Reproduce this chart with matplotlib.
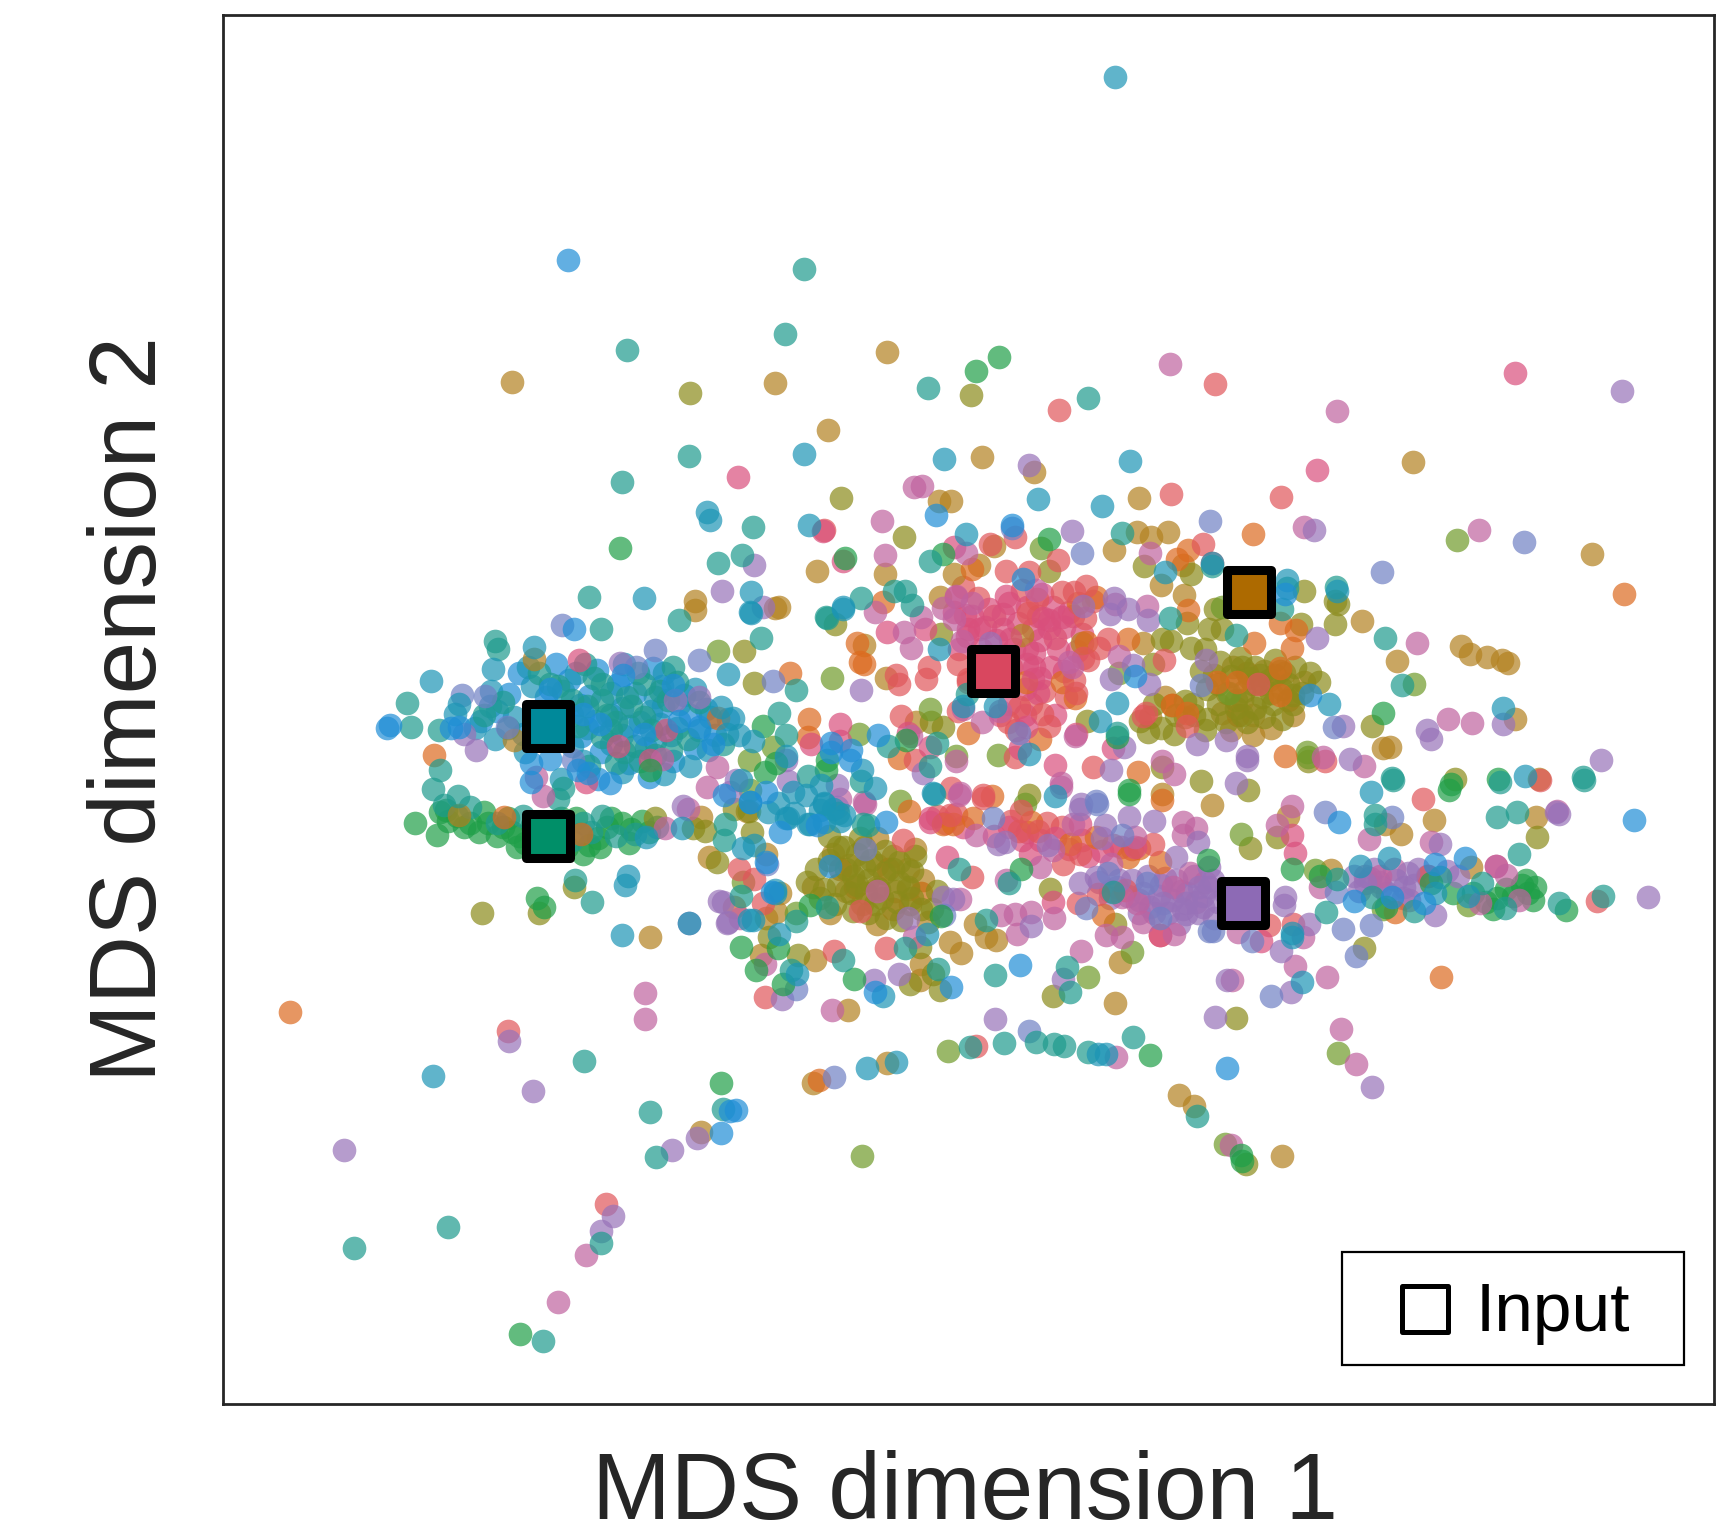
import matplotlib
matplotlib.use('Agg')
import matplotlib.pyplot as plt

plt.rcParams['font.family'] = ['Liberation Sans', 'DejaVu Sans']

# points, one list per colour
blue = [(517,237),(851,468),(921,477),(522,572),(500,626),(567,614),(612,623),(530,649),(546,658),(586,667),(618,655),
        (535,703),(555,712),(526,700),(483,711),(483,694),(410,662),(418,661),(352,662),(355,659),(636,661),(649,676),
        (756,675),(774,682),(659,723),(682,729),(697,720),(710,756),(806,747),(743,750),(755,787),(697,784),(702,811),
        (1116,971),(1218,747),(1333,780),(1305,785),(1232,819),(1266,815),(1295,821),(1486,745),(664,1010),(670,1009),
        (656,1030),(1032,615),(931,526),(799,668),(756,684),(773,691),(928,877),(865,897),(796,902),(1192,632),(1169,540)]
periwinkle = [(511,568),(579,606),(596,591),(636,600),(420,632),(441,633),(461,661),(521,691),(703,619),(698,785),
              (787,772),(859,832),(903,744),(1021,759),(1008,794),(1043,803),(1055,834),(1100,846),(988,825),(997,728),
              (1205,738),(1266,743),(1215,811),(1222,844),(1247,841),(1233,869),(1156,905),(1103,846),(1139,855),(936,937),
              (759,979),(724,899),(1101,474),(984,503),(921,480),(1092,623),(1213,661),(998,731),(1257,520),(1386,493),(927,666)]
mauve = [(564,603),(636,634),(614,636),(422,667),(433,682),(670,709),(664,720),(621,733),(654,819),(661,839),(627,839),
         (715,691),(761,714),(826,834),(795,891),(818,885),(711,908),(858,815),(867,817),(908,767),(914,765),(953,768),
         (983,731),(1005,750),(1027,743),(1050,746),(1002,762),(982,803),(997,797),(1018,800),(1058,821),(1079,821),(1094,824),
         (1079,831),(1091,806),(1103,800),(1070,779),(1090,765),(1100,788),(938,842),(967,890),(905,926),(1169,815),(1168,823),
         (1191,840),(1165,864),(1174,902),(1116,891),(1105,924),(1242,803),(1277,806),(1281,794),(1326,796),(1305,832),(1310,767),
         (1418,740),(1499,815),(1248,988),(975,483),(1013,544),(1010,558),(1026,554),(1044,564),(985,551),(1198,580),(1089,676),
         (1115,673),(1134,691),(1124,712),(1011,700),(1022,679),(1031,605),(1045,622),(1011,617),(783,627),(982,735),(840,703),
         (1475,356),(936,423),(686,514),(657,537),(694,552),(463,946),(485,992),(634,1034),(611,1045),(313,1045),(558,1105),(547,1119),
         (1134,687),(1228,690),(1298,664),(1302,672),(1222,660),(1367,658),(1456,691),(1415,738),(761,734),(717,710),(658,820),(662,838),
         (901,585),(1195,482),(1097,600)]
pink = [(494,724),(488,706),(602,690),(605,753),(626,735),(643,715),(652,697),(587,903),(587,926),(673,834),(696,876),(757,918),
        (764,726),(787,731),(873,721),(965,712),(798,810),(831,852),(873,817),(888,759),(958,773),(976,749),(946,788),(915,800),
        (959,834),(925,849),(938,829),(923,831),(911,832),(1006,850),(983,864),(1021,852),(1040,838),(1068,849),(1076,747),(1088,753),
        (1076,759),(1032,761),(1011,785),(1034,821),(1021,815),(1067,806),(1082,794),(1175,733),(1162,750),(1185,852),(1178,878),
        (1207,888),(1121,891),(1126,847),(1220,935),(1233,967),(1245,763),(1302,765),(1361,787),(1370,795),(1255,796),(1201,806),
        (1346,821),(1382,818),(1416,737),(1216,374),(839,442),(802,474),(805,505),(879,503),(870,542),(858,553),(884,548),(868,563),
        (942,536),(875,583),(838,561),(822,575),(829,589),(796,556),(1014,549),(1043,551),(1046,503),(972,602),(975,606),(1018,596),
        (876,645),(893,656),(910,646),(829,669),(870,692),(872,723),(786,729),(965,715),(1068,704),(1057,692),(978,669),(1186,479),
        (1345,482),(1339,657),(1317,654),(1289,585),(1203,688),(1241,696),(533,1141),(508,1183),(1120,1041),(1015,961),(1064,331),(831,443)]
rose = [(527,600),(606,664),(562,678),(591,691),(533,711),(738,676),(764,658),(671,434),(861,779),(937,776),(982,749),(846,747),
        (958,820),(1032,770),(1055,850),(1147,855),(1175,759),(1178,775),(1361,787),(1378,339),(1198,427),(749,483),(868,497),
        (767,510),(915,542),(912,558),(966,561),(949,562),(954,571),(919,581),(891,572),(881,572),(841,572),(807,575),(941,606),
        (941,594),(940,617),(928,680),(933,661),(1012,680),(979,667),(960,695),(846,679),(826,666),(870,543),(878,559),(764,674)]
salmon = [(1165,452),(750,482),(963,373),(1105,349),(1065,449),(901,495),(923,488),(962,509),(1094,495),(1102,512),(936,520),
          (915,519),(943,545),(935,557),(966,538),(977,538),(988,533),(987,562),(1000,589),(1008,581),(985,598),(977,618),(979,630),
          (1059,600),(1042,648),(1040,651),(845,606),(842,617),(871,604),(881,617),(881,620),(818,622),(815,614),(820,651),(871,646),
          (917,656),(927,643),(923,688),(954,660),(948,649),(832,691),(865,716),(894,725),(994,697),(1144,622),(1205,692),(672,790),
          (686,799),(694,821),(806,862),(759,864),(696,906),(888,951),(782,828),(1080,660),(927,755),(944,755),(929,737),(864,741),
          (982,776),(967,785),(1049,767),(981,821),(999,813),(1023,809),(1055,850),(1154,841),(1176,840),(1299,796),(1294,726),(1453,819),
          (462,937),(551,1094),(884,797),(821,764),(894,723),(1401,709)]
orange = [(264,920),(1311,888),(1477,540),(1140,486),(1071,508),(1081,500),(1081,555),(1164,566),(1179,573),(1175,589),(1164,607),
          (1107,620),(1125,620),(1164,632),(1066,641),(1080,648),(884,517),(981,548),(997,543),(988,584),(1026,581),(933,620),(966,620),
          (978,635),(803,547),(786,604),(881,666),(946,672),(1035,702),(1057,727),(818,689),(1169,687),(735,670),(719,612),(653,653),
          (736,654),(780,585),(782,602),(529,758),(459,743),(827,737),(902,724),(885,744),(867,749),(858,749),(938,747),(973,767),
          (997,761),(1036,771),(1026,779),(1055,784),(1003,832),(395,686),(1269,829),(1141,585),(745,982),(668,824)]
gold = [(466,347),(705,348),(807,320),(753,391),(865,456),(893,416),(941,429),(1036,453),(854,456),(743,519),(904,496),(1034,484),
        (1047,488),(1062,484),(1013,500),(1056,532),(1076,514),(1077,541),(891,514),(868,522),(805,522),(709,552),(786,586),(806,616),
        (833,656),(930,577),(855,543),(984,585),(1040,585),(1285,420),(1448,504),(1329,587),(1337,595),(1353,597),(1372,603),(1366,600),
        (1271,601),(1239,565),(1378,654),(1258,680),(1264,679),(1400,708),(468,673),(486,599),(632,555),(632,546),(705,553),(418,741),
        (638,743),(645,779),(680,737),(697,776),(710,812),(706,829),(697,834),(692,868),(741,873),(887,840),(864,856),(874,866),(897,852),
        (906,854),(838,876),(837,891),(1014,912),(771,918),(1019,874),(1102,732),(1172,742),(1211,791),(1304,745),(1260,749),(1274,758),
        (1397,743),(1338,788),(1057,722),(740,984),(807,966),(638,1029),(1072,995),(1086,1005),(1166,1051),(591,852)]
khaki = [(883,359),(628,357),(765,453),(822,488),(1041,515),(1083,522),(1080,566),(1105,554),(1100,572),(1112,572),(1083,589),
         (1096,590),(1049,604),(1057,581),(1065,583),(1056,662),(1044,665),(1068,667),(1037,655),(1078,637),(1190,692),(1092,710),(1135,718),
         (1057,697),(858,661),(847,656),(856,576),(760,567),(954,519),(1186,537),(1183,567),(1214,567),(1214,546),(1217,549),(1248,660),
         (1323,708),(1398,761),(989,655),(936,723),(596,744),(630,753),(641,755),(684,756),(652,784),(668,735),(700,852),(726,868),(828,894),
         (849,885),(855,900),(837,861),(955,808),(958,905),(1014,840),(1137,771),(1162,761),(1241,862),(1124,925),(681,737),(677,592),(686,621),
         (490,830),(439,830),(522,806),(1133,1058)]
olive = [(653,592),(757,616),(781,667),(846,645),(908,686),(947,498),(1118,630),(1190,688),(1018,612),(1112,552),
         (1286,622),(1325,491),(703,679),(681,691),(682,718),(724,830),(819,728),(932,731),(1129,758),(1030,865),(1196,791),
         (1258,826),(1335,823),(1217,957),(990,888),(862,955),(784,1051),(1114,1040),(1189,684),(676,802),(870,687)]
green = [(564,498),(888,337),(909,325),(954,490),(858,504),(769,507),(1027,722),(1027,718),(1258,648),(1363,708),(1320,713),(694,660),
         (752,691),(706,694),(696,702),(1016,670),(824,673),(751,700),(378,748),(398,759),(489,816),(495,824),(674,861),(708,862),(688,882),
         (712,894),(777,890),(737,823),(856,833),(929,790),(1046,959),(1099,782),(1175,790),(1201,796),(1261,824),(1302,803),
         (1424,827),(1318,718),(1129,1050),(1130,1055),(656,984),(473,1212),(591,700)]
teal = [(731,245),(714,304),(570,318),(844,353),(990,362),(627,415),(566,438),(653,512),(675,505),(685,479),(536,543),(547,572),
        (692,580),(752,562),(618,564),(450,583),(453,590),(370,639),(374,661),(399,664),(400,700),(394,717),(709,648),(715,668),(724,627),
        (735,705),(762,739),(783,544),(813,537),(823,537),(830,550),(751,561),(846,510),(1021,485),(1064,562),(1124,577),(1166,554),(1171,535),
        (808,678),(852,675),(846,696),(783,710),(880,631),(1016,666),(785,749),(790,750),(850,722),(897,836),(918,803),(872,790),(417,724),
        (660,749),(659,764),(539,820),(523,800),(674,814),(724,837),(752,824),(767,873),(720,882),(823,862),(853,881),(905,886),(971,879),
        (973,902),(913,948),(882,952),(942,947),(959,949),(968,951),(990,956),(1031,943),(1089,1014),(531,964),(591,1011),(658,1008),(597,1052),
        (408,1115),(322,1134),(547,1130),(494,1219),(1206,829),(1251,741),(1251,749),(1362,743),(1380,738),(1382,776),(1267,709),(1364,711),
        (1441,709),(1440,706),(1266,707),(1260,580),(1215,534),(1275,623),(1248,815),(1216,799),(1310,797),(1348,803),(1369,825),(1286,828),
        (1418,821),(1458,814),(1012,811),(1102,515)]
cyan = [(1014,70),(731,413),(859,417),(1028,419),(944,454),(1002,460),(643,466),(646,473),(736,477),(879,486),(683,538),(683,557),
        (767,552),(586,544),(682,556),(662,613),(392,619),(449,608),(486,588),(418,640),(414,649),(656,643),(667,653),(661,667),(685,674),
        (674,709),(721,720),(747,714),(708,730),(717,744),(735,749),(750,730),(758,735),(768,741),(750,731),(699,738),(682,729),(715,744),
        (737,749),(715,687),(733,723),(746,736),(722,739),(750,747),(764,746),(784,700),(796,716),(849,721),(905,642),(843,849),(876,642),
        (1060,520),(1102,512),(1171,527),(1216,537),(854,590),(767,554),(1016,639),(1209,640),(936,685),(960,724),(1001,655),(588,761),(620,753),
        (571,796),(569,804),(566,850),(627,839),(676,771),(686,768),(681,836),(685,836),(705,809),(705,812),(709,849),(725,885),(803,905),
        (815,965),(789,971),(999,958),(1006,958),(1247,720),(1263,780),(1237,787),(1305,812),(1335,814),(1175,852),(1184,893),(1367,644),
        (1387,705),(394,978),(1175,848)]

# the crowded patches, drawn first so the single points sit on top
blue_dense = [(472,612),(506,604),(543,609),(594,607),(518,618),(562,622),(602,624),(463,631),(497,634),(536,633),(578,630),(622,632),
              (452,646),(487,648),(528,641),(566,644),(603,642),(642,645),(438,655),(476,667),(541,655),(582,656),(628,650),(662,654),
              (529,669),(566,668),(610,668),(650,668),(547,684),(588,680),(632,680),(500,690),(572,694),(612,692),(544,708),(590,706)]
cyan_dense = [(480,606),(524,612),(568,604),(604,612),(447,628),(484,624),(512,628),(556,630),(596,634),(632,626),(446,642),(468,652),
              (520,650),(556,650),(592,646),(618,640),(646,652),(432,662),(450,672),(534,662),(572,660),(600,658),(636,664),(672,668),
              (520,678),(556,676),(596,674),(644,682),(478,684),(530,692),(566,702),(604,704),(628,696),(510,708)]
teal_dense = [(490,612),(532,604),(580,612),(612,606),(508,624),(548,622),(586,622),(616,620),(458,638),(548,636),(574,642),(608,636),
              (636,638),(440,650),(462,662),(534,642),(560,656),(592,664),(626,672),(548,670),(578,678),(610,682),(658,676),(536,696),(582,692),
              (512,716),(508,726),(404,732),(428,734),(452,748),(476,742),(494,770),(530,748),(548,742),(520,764),(538,756),(560,760),(578,758),(598,752),
              (500,622),(540,616),(570,634),(600,628),(526,660),(556,664),(586,652),(616,662),(568,684),(596,686),(552,650),(520,636),(560,694)]
green_dense = [(400,738),(408,746),(422,752),(440,738),(436,756),(452,760),(466,756),(478,766),(490,758),(462,744),(512,756),(524,744),
               (536,768),(552,752),(566,748),(546,770),(572,766),(590,756),(584,746),(530,776),
               (406,736),(416,742),(428,748),(444,748),(458,752),(472,760),(484,750),(470,770),(516,770),(528,758),(544,762),(556,744),(574,754),(510,744),
               (1322,812),(1340,812),(1352,820),(1362,816),(1370,808),(1384,804),(1390,812),(1396,806),(1358,826),(1376,814),(1388,800),(1394,818)]
khaki_dense = [(1092,610),(1110,602),(1128,598),(1142,606),(1160,600),(1178,606),(1192,612),(1120,615),(1136,616),(1154,618),(1172,622),(1098,626),
               (1116,630),(1132,628),(1148,634),(1166,626),(1184,630),(1200,620),(1108,640),(1124,644),(1142,644),(1158,640),(1176,640),(1086,650),(1098,654),
               (1115,656),(1134,656),(1150,652),(1166,654),(1096,664),(1070,650),(1050,640),(1084,640),
               (742,790),(754,782),(768,770),(780,776),(792,782),(805,774),(818,784),(832,778),(762,804),(776,796),(790,800),(804,794),(818,802),
               (830,792),(746,816),(760,822),(774,812),(788,812),(802,816),(816,820),(830,816),(776,828),(790,830),(806,834),(820,836),(838,826),(734,802),
               (750,808),(852,810),(848,826),(754,760),(782,762),(770,790),(786,788),(800,808),(812,790),(826,806),(780,804),(796,822),(762,770),
               (1130,606),(1146,614),(1164,610),(1108,622),(1124,636),(1140,622),(1156,630),(1176,632),(1130,650)]
gold_dense = [(1104,614),(1122,606),(1150,610),(1168,612),(1186,620),(1130,636),(1112,648),(1148,622),(1176,650),(1140,650),(1156,662),
              (1060,634),(1078,652),(1046,652),(1120,664),(1140,668),
              (758,776),(772,786),(786,770),(798,786),(812,778),(826,790),(770,810),(784,822),(798,806),(814,810),(826,808),(840,800),
              (740,806),(755,830),(798,840),(828,822),(844,838),(798,762),(832,772)]
orange_dense = [(1134,612),(1160,614),(1172,636),(1126,650),(1066,641),
                (764,790),(778,806),(808,790),(838,812),(812,826)]
rose_dense = [(868,556),(884,560),(900,554),(918,548),(934,552),(948,540),(958,552),(972,556),(880,578),(896,570),(912,572),(926,566),(940,572),
              (954,564),(968,570),(984,576),(872,590),(892,590),(906,582),(922,590),(934,590),(946,582),(962,590),(980,592),(934,604),(946,616),
              (956,606),(968,610),(932,626),(944,630),(932,650),(960,650),(910,650),(918,640),
              (846,744),(860,748),(876,752),(904,760),(918,752),(930,764),(946,764),(960,762),(972,772),(990,778),(1002,774),(1020,770)]
salmon_dense = [(876,534),(890,544),(904,560),(930,536),(944,560),(976,560),(994,546),(960,580),(920,606),(950,628),(938,640),(924,664),(970,634),
                (990,600),(852,742),(870,740),(920,746),(934,756),(952,748),(966,752),(984,764),(1012,768),(1030,772)]
mauve_dense = [(1000,802),(1016,806),(1030,800),(1044,796),(1056,804),(1070,800),(1086,796),(1100,806),(1114,812),(1010,816),(1026,814),(1040,812),
               (1054,814),(1066,818),(1080,812),(1094,814),(1108,820),(1046,824),(1062,830),(1076,826),(1090,830),(1104,834),(1118,830),(1036,830),(1072,840),
               (1232,796),(1246,798),(1256,806),(1270,800),(1286,804),(1298,796),(1276,816),(1262,812),(1236,810),(1250,790),(1316,792),(1290,790)]
pink_dense = [(1060,798),(1074,810),(1088,820),(1036,818),(1010,810),(1096,802),(1050,830),(1242,796),(1268,790),(1282,818),(1254,802)]

input_x = [499, 499, 903, 1136, 1131]
input_y = [660, 760, 610, 538, 821]
input_colors = ['#00899a', '#008f68', '#d9475f', '#ad6a00', '#8d6ab5']

groups = [
    (gold_dense, '#b38120'), (orange_dense, '#c86a10'), (khaki_dense, '#8a8a1a'), (salmon_dense, '#e0565a'), (rose_dense, '#d94f7c'),
    (pink_dense, '#c0629f'), (mauve_dense, '#9872b8'), (blue_dense, '#1f8ed6'), (cyan_dense, '#1c95b5'),
    (green_dense, '#1f9f48'), (teal_dense, '#1e9b8e'),
    (gold, '#b38120'), (khaki, '#8a8a1a'), (olive, '#6f9a2a'), (orange, '#dc6a1f'), (salmon, '#e0565a'),
    (rose, '#d94f7c'), (pink, '#c0629f'), (mauve, '#9872b8'), (periwinkle, '#7080c4'),
    (green, '#1f9f48'), (teal, '#1e9b8e'), (cyan, '#1c95b5'), (blue, '#1f8ed6'),
]

fig = plt.figure(figsize=(17.24, 15.37), dpi=100)
ax = fig.add_axes([223 / 1724, 1 - 1404 / 1537, (1714 - 223) / 1724, (1404 - 15) / 1537])

for pts, color in groups:
    xs = [p[0] for p in pts]
    ys = [p[1] for p in pts]
    ax.scatter(xs, ys, s=290, color=color, alpha=0.7, linewidths=0, zorder=2)

for x, y, c in zip(input_x, input_y, input_colors):
    ax.scatter([x], [y], s=1020, marker='s', facecolor=c, edgecolor='black', linewidths=6.5, zorder=5)

ax.set_xlim(203, 1559)
ax.set_ylim(1276, 14)
ax.set_xticks([])
ax.set_yticks([])
for s in ax.spines.values():
    s.set_color('#262626')
    s.set_linewidth(2)

ax.set_xlabel('MDS dimension 1', fontsize=68, color='#262626', labelpad=33, x=0.4975)
ax.set_ylabel('MDS dimension 2', fontsize=68, color='#262626', labelpad=34)

# legend box, same place as the picture
ax.add_patch(plt.Rectangle((1221, 1138), 311, 103, facecolor='white', edgecolor='black', linewidth=1.6, zorder=6))
ax.scatter([1296], [1190], s=1090, marker='s', facecolor='white', edgecolor='black', linewidths=3.6, zorder=7)
ax.text(1342, 1193, 'Input', fontsize=50, color='black', va='center', zorder=7)

fig.savefig('out.png', dpi=100)
